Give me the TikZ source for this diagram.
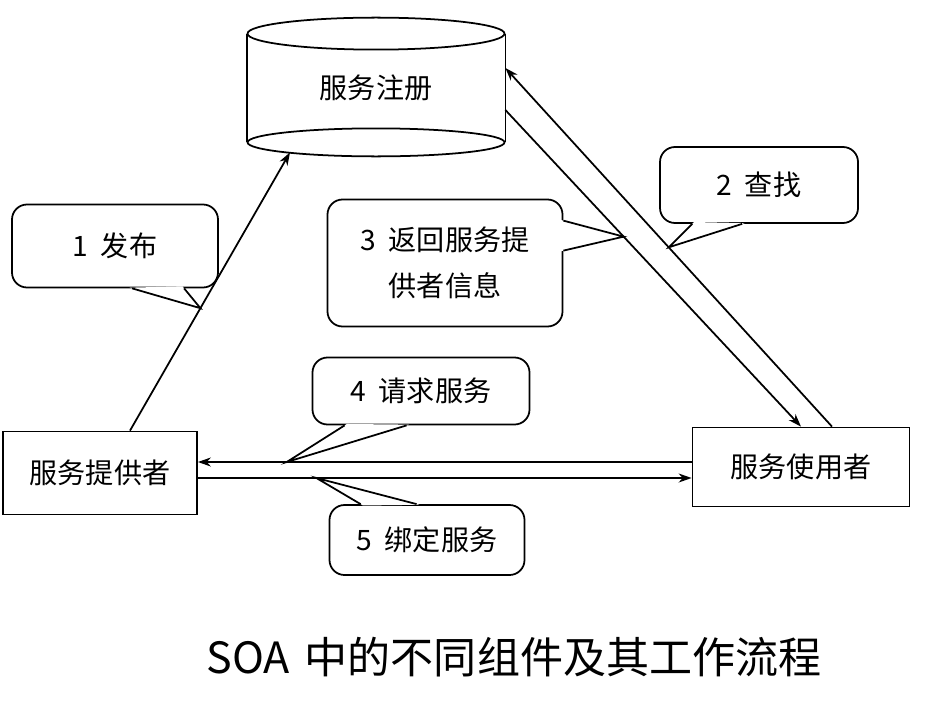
\documentclass[tikz,border=0pt]{standalone}
\usepackage{fontspec}
\setmainfont{Noto Sans CJK SC}
\usetikzlibrary{positioning,arrows.meta,calc}
\tikzset{
  box/.style={rectangle, draw, line width=1pt, inner sep=0pt,
              font=\fontsize{16}{20}\selectfont},
  bubble/.style={rectangle, rounded corners=3mm, draw, line width=1pt, inner sep=0pt,
                 align=center, font=\fontsize{16}{26}\selectfont},
  flow/.style={-{Stealth[length=2.6mm,width=1.8mm]}, line width=1pt},
  callline/.style={line width=1pt}
}
% pointer of a speech bubble: base point, tip, base point
\newcommand{\callptr}[3]{%
  \fill[white] ($(#1)!-1.5pt!(#2)$) -- (#1) -- ($(#1)!0.5!(#2)$) -- ($(#3)!0.5!(#2)$)
    -- (#3) -- ($(#3)!-1.5pt!(#2)$) -- cycle;
  \draw[callline] (#1) -- (#2) -- (#3);}

\begin{document}
\begin{tikzpicture}[x=0.2mm,y=-0.2mm]
\useasboundingbox (0,0) rectangle (927,701);
% registry drum
\node[box, draw=none, minimum width=51.4mm, minimum height=21.4mm] (reg) at (376,88) {服务注册};
\draw[callline] (reg.north west) -- (reg.south west) (reg.north east) -- (reg.south east);
\draw[callline] (reg.north) ellipse [x radius=25.7mm, y radius=3.2mm];
\draw[callline] (reg.south) ellipse [x radius=25.7mm, y radius=2.8mm];
% provider and consumer
\node[box, minimum width=38.8mm, minimum height=16.6mm] (prov) at (100,473) {服务提供者};
\node[box, minimum width=43.4mm, minimum height=15.8mm] (cons) at (801,467) {服务使用者};
% bubbles
\node[bubble, minimum width=41.2mm, minimum height=16.6mm] (c1) at (115,246) {1\ \ 发布};
\node[bubble, minimum width=39.6mm, minimum height=15.2mm] (c2) at (759,185) {2\ \ 查找};
\node[bubble, minimum width=47mm, minimum height=25.4mm] (c3) at (445,263) {3\ \ 返回服务提\\供者信息};
\node[bubble, minimum width=43.4mm, minimum height=13.4mm] (c4) at (421,391) {4\ \ 请求服务};
\node[bubble, minimum width=39mm, minimum height=14mm] (c5) at (427,540) {5\ \ 绑定服务};
% connector ends
\coordinate (regpub) at ($(reg.south)+(-86,10)$);
\coordinate (regin) at ($(reg.east)+(0,-20)$);
\coordinate (regout) at ($(reg.east)+(0,22)$);
\coordinate (consup) at ($(cons.north)+(31,0)$);
\coordinate (provup) at ($(prov.north)+(30,0)$);
\coordinate (req) at ($(cons.west)+(0,-5)$);
\coordinate (bind) at ($(cons.west)+(0,11)$);
% bubble bases
\coordinate (c1a) at ($(c1.south west)+(121,0)$);
\coordinate (c1b) at ($(c1.south west)+(173,0)$);
\coordinate (c2a) at ($(c2.south west)+(33,0)$);
\coordinate (c2b) at ($(c2.south west)+(83,0)$);
\coordinate (c3a) at ($(c3.north east)+(0,22)$);
\coordinate (c3b) at ($(c3.north east)+(0,52)$);
\coordinate (c4a) at ($(c4.south west)+(33,0)$);
\coordinate (c4b) at ($(c4.south west)+(95,0)$);
\coordinate (c5a) at ($(c5.north west)+(32,0)$);
\coordinate (c5b) at ($(c5.north west)+(88,0)$);
% steps
\path (provup) -- coordinate[pos=.44] (t1) (regpub);
\path (consup) -- coordinate[pos=.5] (t2) (regin);
\path (regout) -- coordinate[pos=.4] (t3) (cons.north);
\path (req) -- coordinate[pos=.82] (t4) (prov.east |- req);
\path (prov.east |- bind) -- coordinate[pos=.24] (t5) (bind);
\callptr{c1a}{t1}{c1b}
\callptr{c2a}{t2}{c2b}
\callptr{c3a}{t3}{c3b}
\callptr{c4a}{t4}{c4b}
\callptr{c5a}{t5}{c5b}
\draw[flow] (provup) -- (regpub);
\draw[flow] (consup) -- (regin);
\draw[flow] (regout) -- (cons.north);
\draw[flow] (req) -- (prov.east |- req);
\draw[flow] (prov.east |- bind) -- (bind);
% caption
\node[font=\fontsize{24.5}{28}\selectfont] (title) at (514,657) {SOA\hspace{3mm}中的不同组件及其工作流程};
\end{tikzpicture}
\end{document}
